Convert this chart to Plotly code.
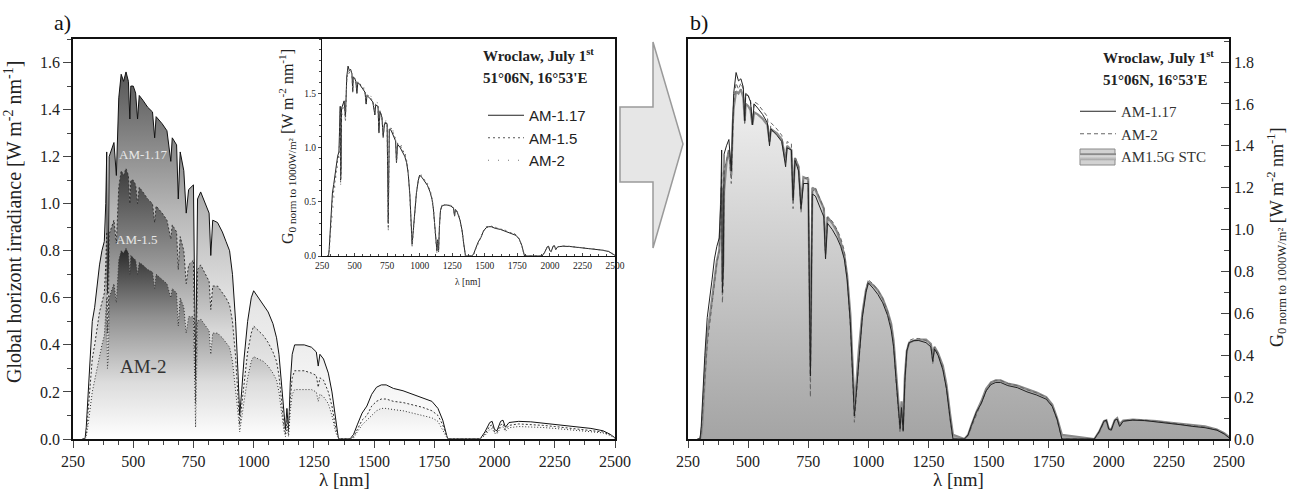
import plotly.graph_objects as go

# ---------------- data ----------------
WL = [
    290, 300, 305, 310, 320, 330, 340, 350, 360, 370,
    380, 386, 390, 393, 397, 400, 410, 420, 430, 436,
    440, 450, 460, 470, 480, 486, 490, 500, 510, 518,
    525, 540, 560, 580, 589, 595, 620, 640, 656, 662,
    680, 687, 695, 710, 720, 730, 750, 759, 762, 767,
    780, 800, 815, 822, 830, 850, 870, 885, 900, 912,
    925, 935, 942, 950, 960, 975, 990, 1000, 1020, 1040,
    1060, 1080, 1095, 1105, 1115, 1125, 1132, 1138, 1145, 1152,
    1160, 1170, 1190, 1210, 1240, 1260, 1268, 1275, 1290, 1310,
    1325, 1340, 1352, 1400, 1415, 1430, 1450, 1470, 1490, 1510,
    1530, 1550, 1580, 1620, 1660, 1700, 1740, 1765, 1785, 1805,
    1940, 1960, 1980, 1990, 2000, 2010, 2025, 2035, 2045, 2060,
    2100, 2150, 2200, 2250, 2300, 2350, 2400, 2450, 2480, 2500,
]

# panel a) global horizontal irradiance [W m-2 nm-1]
AM117 = [
    0, 0, 0.05, 0.15, 0.35, 0.50, 0.56, 0.65, 0.74, 0.80,
    0.84, 1.0, 1.22, 0.62, 0.72, 1.20, 1.23, 1.26, 1.12, 1.36,
    1.45, 1.55, 1.52, 1.56, 1.52, 1.36, 1.50, 1.50, 1.47, 1.36,
    1.46, 1.44, 1.41, 1.39, 1.28, 1.37, 1.34, 1.31, 1.18, 1.28,
    1.25, 1.02, 1.22, 1.14, 0.96, 1.06, 1.08, 0.25, 0.55, 1.02,
    1.05, 1.00, 0.96, 0.78, 0.93, 0.92, 0.88, 0.84, 0.80, 0.70,
    0.50, 0.28, 0.10, 0.20, 0.34, 0.50, 0.60, 0.63, 0.60, 0.57,
    0.54, 0.49, 0.43, 0.36, 0.24, 0.10, 0.04, 0.13, 0.03, 0.24,
    0.36, 0.40, 0.40, 0.40, 0.39, 0.37, 0.31, 0.36, 0.34, 0.28,
    0.20, 0.08, 0.0, 0.0, 0.02, 0.06, 0.11, 0.14, 0.19, 0.22,
    0.23, 0.23, 0.215, 0.205, 0.19, 0.175, 0.16, 0.13, 0.08, 0.0,
    0.0, 0.03, 0.07, 0.075, 0.04, 0.035, 0.075, 0.08, 0.05, 0.07,
    0.075, 0.073, 0.068, 0.062, 0.056, 0.05, 0.045, 0.035, 0.02, 0.005,
]
AM15 = [
    0, 0, 0.02, 0.08, 0.22, 0.34, 0.40, 0.47, 0.54, 0.58,
    0.62, 0.74, 0.88, 0.45, 0.52, 0.87, 0.90, 0.93, 0.83, 1.00,
    1.07, 1.14, 1.12, 1.15, 1.12, 1.00, 1.10, 1.10, 1.08, 1.00,
    1.07, 1.05, 1.02, 1.00, 0.92, 0.99, 0.96, 0.93, 0.85, 0.91,
    0.88, 0.72, 0.86, 0.80, 0.66, 0.74, 0.76, 0.15, 0.36, 0.72,
    0.74, 0.70, 0.67, 0.55, 0.65, 0.65, 0.62, 0.60, 0.57, 0.50,
    0.35, 0.19, 0.06, 0.14, 0.24, 0.37, 0.45, 0.48, 0.46, 0.44,
    0.41, 0.37, 0.33, 0.27, 0.17, 0.06, 0.02, 0.08, 0.02, 0.17,
    0.26, 0.29, 0.29, 0.29, 0.28, 0.27, 0.22, 0.26, 0.25, 0.20,
    0.14, 0.05, 0.0, 0.0, 0.01, 0.04, 0.08, 0.10, 0.14, 0.16,
    0.17, 0.17, 0.16, 0.155, 0.145, 0.135, 0.12, 0.10, 0.06, 0.0,
    0.0, 0.02, 0.055, 0.06, 0.03, 0.028, 0.06, 0.065, 0.04, 0.058,
    0.064, 0.062, 0.058, 0.053, 0.048, 0.043, 0.038, 0.03, 0.017, 0.004,
]
AM2 = [
    0, 0, 0.01, 0.04, 0.12, 0.20, 0.25, 0.30, 0.36, 0.40,
    0.44, 0.52, 0.60, 0.30, 0.35, 0.60, 0.63, 0.66, 0.58, 0.72,
    0.76, 0.80, 0.79, 0.81, 0.79, 0.70, 0.78, 0.77, 0.76, 0.70,
    0.75, 0.74, 0.72, 0.71, 0.64, 0.70, 0.68, 0.66, 0.60, 0.64,
    0.62, 0.48, 0.60, 0.56, 0.45, 0.52, 0.52, 0.05, 0.22, 0.50,
    0.51, 0.48, 0.46, 0.36, 0.45, 0.45, 0.43, 0.41, 0.39, 0.33,
    0.22, 0.11, 0.03, 0.08, 0.16, 0.26, 0.33, 0.35, 0.34, 0.33,
    0.31, 0.28, 0.25, 0.20, 0.12, 0.04, 0.01, 0.05, 0.01, 0.12,
    0.19, 0.21, 0.21, 0.21, 0.21, 0.20, 0.16, 0.19, 0.18, 0.15,
    0.10, 0.03, 0.0, 0.0, 0.005, 0.03, 0.06, 0.08, 0.10, 0.12,
    0.13, 0.13, 0.125, 0.12, 0.11, 0.10, 0.09, 0.075, 0.04, 0.0,
    0.0, 0.015, 0.04, 0.045, 0.025, 0.022, 0.048, 0.052, 0.032, 0.048,
    0.053, 0.052, 0.049, 0.045, 0.041, 0.037, 0.033, 0.026, 0.015, 0.003,
]

# normalised to 1000 W/m2 (inset of a) and panel b)
N_AM117 = [
    0, 0, 0.06, 0.18, 0.40, 0.58, 0.66, 0.76, 0.86, 0.92,
    0.96, 1.12, 1.38, 0.70, 0.82, 1.36, 1.40, 1.43, 1.28, 1.55,
    1.65, 1.75, 1.71, 1.72, 1.68, 1.52, 1.65, 1.64, 1.61, 1.50,
    1.60, 1.58, 1.55, 1.51, 1.40, 1.48, 1.45, 1.42, 1.30, 1.39,
    1.38, 1.14, 1.33, 1.28, 1.10, 1.22, 1.22, 0.30, 0.65, 1.17,
    1.16, 1.10, 1.06, 0.86, 1.03, 1.00, 0.96, 0.92, 0.86, 0.76,
    0.56, 0.30, 0.11, 0.22, 0.38, 0.58, 0.70, 0.745, 0.72, 0.69,
    0.65, 0.59, 0.52, 0.44, 0.29, 0.12, 0.05, 0.15, 0.04, 0.28,
    0.42, 0.46, 0.47, 0.47, 0.46, 0.44, 0.37, 0.43, 0.40, 0.33,
    0.24, 0.10, 0.0, 0.0, 0.02, 0.07, 0.13, 0.17, 0.23, 0.26,
    0.27, 0.27, 0.255, 0.245, 0.225, 0.21, 0.19, 0.155, 0.095, 0.0,
    0.0, 0.035, 0.085, 0.09, 0.048, 0.042, 0.09, 0.095, 0.06, 0.085,
    0.09, 0.088, 0.082, 0.075, 0.068, 0.06, 0.054, 0.042, 0.024, 0.006,
]
N_AM15 = [
    0, 0, 0.04, 0.14, 0.34, 0.52, 0.60, 0.70, 0.81, 0.88,
    0.93, 1.08, 1.33, 0.68, 0.78, 1.32, 1.37, 1.40, 1.25, 1.52,
    1.62, 1.72, 1.69, 1.71, 1.68, 1.51, 1.64, 1.64, 1.61, 1.50,
    1.60, 1.59, 1.56, 1.52, 1.41, 1.49, 1.46, 1.43, 1.31, 1.40,
    1.39, 1.12, 1.34, 1.29, 1.09, 1.23, 1.23, 0.25, 0.60, 1.17,
    1.18, 1.12, 1.08, 0.86, 1.04, 1.02, 0.98, 0.94, 0.88, 0.77,
    0.55, 0.29, 0.09, 0.21, 0.37, 0.58, 0.70, 0.75, 0.73, 0.70,
    0.66, 0.60, 0.53, 0.44, 0.28, 0.11, 0.04, 0.14, 0.035, 0.27,
    0.42, 0.46, 0.47, 0.47, 0.465, 0.445, 0.365, 0.435, 0.405, 0.335,
    0.24, 0.095, 0.0, 0.0, 0.018, 0.065, 0.125, 0.17, 0.23, 0.265,
    0.275, 0.275, 0.26, 0.25, 0.23, 0.215, 0.195, 0.157, 0.092, 0.0,
    0.0, 0.032, 0.082, 0.088, 0.046, 0.041, 0.089, 0.095, 0.06, 0.085,
    0.091, 0.089, 0.083, 0.076, 0.069, 0.062, 0.055, 0.043, 0.025, 0.006,
]
N_AM2 = [
    0, 0, 0.03, 0.10, 0.28, 0.45, 0.55, 0.65, 0.76, 0.84,
    0.90, 1.05, 1.28, 0.65, 0.75, 1.28, 1.33, 1.38, 1.22, 1.50,
    1.60, 1.70, 1.67, 1.70, 1.67, 1.50, 1.64, 1.64, 1.62, 1.50,
    1.61, 1.60, 1.57, 1.54, 1.42, 1.51, 1.48, 1.45, 1.32, 1.42,
    1.41, 1.10, 1.35, 1.30, 1.08, 1.24, 1.25, 0.20, 0.55, 1.18,
    1.20, 1.14, 1.10, 0.86, 1.06, 1.04, 1.00, 0.96, 0.90, 0.78,
    0.54, 0.28, 0.08, 0.20, 0.37, 0.58, 0.71, 0.76, 0.74, 0.71,
    0.67, 0.61, 0.54, 0.45, 0.28, 0.10, 0.03, 0.13, 0.03, 0.27,
    0.42, 0.47, 0.48, 0.48, 0.47, 0.45, 0.36, 0.44, 0.41, 0.34,
    0.24, 0.09, 0.0, 0.0, 0.015, 0.06, 0.12, 0.17, 0.23, 0.27,
    0.28, 0.28, 0.265, 0.255, 0.235, 0.22, 0.20, 0.16, 0.09, 0.0,
    0.0, 0.03, 0.08, 0.085, 0.045, 0.04, 0.088, 0.095, 0.06, 0.086,
    0.092, 0.09, 0.085, 0.078, 0.071, 0.064, 0.057, 0.045, 0.026, 0.006,
]
STC = [
    0, 0, 0.02, 0.08, 0.30, 0.50, 0.58, 0.68, 0.78, 0.85,
    0.90, 1.05, 1.20, 0.75, 0.85, 1.18, 1.32, 1.38, 1.26, 1.50,
    1.58, 1.66, 1.65, 1.67, 1.63, 1.52, 1.60, 1.59, 1.57, 1.50,
    1.56, 1.55, 1.53, 1.50, 1.42, 1.48, 1.46, 1.43, 1.33, 1.40,
    1.38, 1.15, 1.34, 1.30, 1.12, 1.25, 1.24, 0.35, 0.70, 1.20,
    1.19, 1.14, 1.10, 0.90, 1.06, 1.03, 0.99, 0.94, 0.88, 0.78,
    0.60, 0.35, 0.18, 0.26, 0.42, 0.60, 0.71, 0.75, 0.735, 0.71,
    0.67, 0.61, 0.55, 0.47, 0.33, 0.15, 0.08, 0.18, 0.07, 0.30,
    0.42, 0.46, 0.47, 0.475, 0.475, 0.455, 0.40, 0.44, 0.41, 0.35,
    0.26, 0.12, 0.02, 0.0, 0.02, 0.07, 0.13, 0.18, 0.24, 0.27,
    0.28, 0.28, 0.265, 0.255, 0.238, 0.222, 0.20, 0.165, 0.10, 0.02,
    0.0, 0.035, 0.085, 0.09, 0.05, 0.045, 0.09, 0.1, 0.07, 0.088,
    0.093, 0.09, 0.085, 0.078, 0.072, 0.066, 0.06, 0.045, 0.028, 0.01,
]

X_TICKS = [250, 500, 750, 1000, 1250, 1500, 1750, 2000, 2250, 2500]
LEFT_Y_TICKS = [0.0, 0.2, 0.4, 0.6, 0.8, 1.0, 1.2, 1.4, 1.6]
RIGHT_Y_TICKS = [0.0, 0.2, 0.4, 0.6, 0.8, 1.0, 1.2, 1.4, 1.6, 1.8]
INSET_Y_TICKS = [0.0, 0.5, 1.0, 1.5]

for s in (AM117, AM15, AM2, N_AM117, N_AM15, N_AM2, STC):
    assert len(s) == len(WL)

SERIF = "Liberation Serif"
SANS = "Liberation Sans"

# ---------------- figure ----------------
W, H = 1293, 498
ML, MR, MT, MB = 73, 64, 39, 59
PW, PH = W - ML - MR, H - MT - MB


def fx(px):
    return (px - ML) / PW


def fy(py):
    return 1 - (py - MT) / PH


fig = go.Figure()

# panel a) main
fig.add_trace(go.Scatter(
    x=WL, y=AM117, mode="lines", line=dict(color="#111111", width=1),
    fill="tozeroy",
    fillgradient=dict(type="vertical", start=0, stop=1.6,
                      colorscale=[[0, "#ffffff"], [0.35, "#e6e6e6"], [0.6, "#b8b8b8"], [1, "#505050"]]),
    showlegend=False, xaxis="x", yaxis="y"))
fig.add_trace(go.Scatter(
    x=WL, y=AM15, mode="lines", line=dict(color="#333333", width=1, dash="2px,2px"),
    fill="tozeroy",
    fillgradient=dict(type="vertical", start=0, stop=1.15,
                      colorscale=[[0, "#ffffff"], [0.4, "#d8d8d8"], [0.7, "#8a8a8a"], [1, "#3c3c3c"]]),
    showlegend=False, xaxis="x", yaxis="y"))
fig.add_trace(go.Scatter(
    x=WL, y=AM2, mode="lines", line=dict(color="#333333", width=1, dash="1px,2px"),
    fill="tozeroy",
    fillgradient=dict(type="vertical", start=0, stop=0.8,
                      colorscale=[[0, "#ffffff"], [0.3, "#dcdcdc"], [0.65, "#909090"], [1, "#2c2c2c"]]),
    showlegend=False, xaxis="x", yaxis="y"))

# inset of a)
fig.add_trace(go.Scatter(x=WL, y=N_AM117, mode="lines", name="AM-1.17",
                         line=dict(color="#222222", width=1), legend="legend",
                         xaxis="x3", yaxis="y3"))
fig.add_trace(go.Scatter(x=WL, y=N_AM15, mode="lines", name="AM-1.5",
                         line=dict(color="#555555", width=1, dash="2px,3px"), legend="legend",
                         xaxis="x3", yaxis="y3"))
fig.add_trace(go.Scatter(x=WL, y=N_AM2, mode="lines", name="AM-2",
                         line=dict(color="#777777", width=1, dash="1px,9px"), legend="legend",
                         xaxis="x3", yaxis="y3"))

# panel b)
fig.add_trace(go.Scatter(
    x=WL, y=STC, mode="lines", name="AM1.5G STC", legend="legend2", legendrank=3,
    line=dict(color="#8a8a8a", width=2.2), fill="tozeroy",
    fillgradient=dict(type="vertical", start=0, stop=1.75,
                      colorscale=[[0, "#a4a4a4"], [1, "#f5f5f5"]]),
    xaxis="x2", yaxis="y2"))
fig.add_trace(go.Scatter(x=WL, y=N_AM2, mode="lines", name="AM-2", legend="legend2", legendrank=2,
                         line=dict(color="#666666", width=1, dash="4px,3px"),
                         xaxis="x2", yaxis="y2"))
fig.add_trace(go.Scatter(x=WL, y=N_AM117, mode="lines", name="AM-1.17", legend="legend2", legendrank=1,
                         line=dict(color="#222222", width=1),
                         xaxis="x2", yaxis="y2"))

tickfont = dict(family=SERIF, size=16, color="#222222")
common_x = dict(range=[250, 2500], tickvals=X_TICKS, ticks="outside", ticklen=7, tickwidth=1.3,
                minor=dict(dtick=62.5, tick0=250, ticks="outside", ticklen=4, tickwidth=1),
                showline=True, linecolor="#111111", linewidth=1.5, mirror=True,
                showgrid=False, zeroline=False, tickfont=tickfont)

fig.update_layout(
    width=W, height=H,
    margin=dict(l=ML, r=MR, t=MT, b=MB, autoexpand=False),
    paper_bgcolor="white", plot_bgcolor="white",
    xaxis=dict(domain=[0, fx(615)], anchor="y", **common_x),
    yaxis=dict(domain=[0, 1], anchor="x", range=[0, 1.70], tickvals=LEFT_Y_TICKS, tickformat=".1f",
               ticks="outside", ticklen=8, tickwidth=1.3,
               minor=dict(dtick=0.1, ticks="outside", ticklen=4, tickwidth=1),
               showline=True, linecolor="#111111", linewidth=1.5, mirror=True,
               showgrid=False, zeroline=False, tickfont=tickfont),
    xaxis2=dict(domain=[fx(688), 1], anchor="y2", **common_x),
    yaxis2=dict(domain=[0, 1], anchor="x2", side="right", range=[0, 1.91], tickvals=RIGHT_Y_TICKS,
                tickformat=".1f", ticks="inside", ticklen=8, tickwidth=1.3,
                minor=dict(dtick=0.1, ticks="inside", ticklen=5, tickwidth=1),
                showline=True, linecolor="#111111", linewidth=1.5, mirror=True,
                showgrid=False, zeroline=False, tickfont=tickfont),
    xaxis3=dict(domain=[fx(322), fx(615)], anchor="y3", range=[250, 2500], tickvals=X_TICKS,
                ticks="inside", ticklen=3, tickwidth=1,
                minor=dict(dtick=62.5, tick0=250, ticks="inside", ticklen=2),
                showline=True, linecolor="#111111", linewidth=1.2, mirror=True,
                showgrid=False, zeroline=False,
                tickfont=dict(family=SERIF, size=9.5, color="#222222")),
    yaxis3=dict(domain=[fy(256), 1], anchor="x3", range=[0, 2.0], tickvals=INSET_Y_TICKS,
                tickformat=".1f", ticks="outside", ticklen=3, tickwidth=1,
                minor=dict(dtick=0.1, ticks="outside", ticklen=2),
                showline=True, linecolor="#111111", linewidth=1.2, mirror=True,
                showgrid=False, zeroline=False,
                tickfont=dict(family=SERIF, size=9.5, color="#222222")),
    legend=dict(x=fx(483), y=fy(99), xanchor="left", yanchor="top", bgcolor="rgba(0,0,0,0)",
                font=dict(family=SANS, size=15, color="#222222"), itemwidth=36,
                tracegroupgap=0),
    legend2=dict(x=fx(1075), y=fy(95), xanchor="left", yanchor="top", bgcolor="rgba(0,0,0,0)",
                 font=dict(family=SERIF, size=15, color="#333333"), itemwidth=36,
                 tracegroupgap=0),
)

# arrow between panels
pts = [(620, 107), (653, 107), (653, 42), (683, 144), (653, 248), (653, 182), (620, 182)]
path = "M " + " L ".join(f"{fx(a):.5f},{fy(b):.5f}" for a, b in pts) + " Z"
fig.add_shape(type="path", path=path, xref="paper", yref="paper",
              fillcolor="#e6e6e6", line=dict(color="#9a9a9a", width=1.5))

# box behind the filled legend symbol of "AM1.5G STC"
fig.add_shape(type="rect", xref="paper", yref="paper",
              x0=fx(1080), x1=fx(1115), y0=fy(165), y1=fy(149),
              fillcolor="#d2d2d2", line=dict(color="#8a8a8a", width=1))

ann = []
# panel labels
ann.append(dict(text="a)", x=fx(52), y=fy(22), xanchor="left", yanchor="middle",
                font=dict(family=SERIF, size=22, color="#111111")))
ann.append(dict(text="b)", x=fx(688), y=fy(22), xanchor="left", yanchor="middle",
                font=dict(family=SERIF, size=22, color="#111111")))
# axis titles
ann.append(dict(text="Global horizont irradiance [W m<sup>-2</sup> nm<sup>-1</sup>]", textangle=-90,
                x=fx(13), y=fy(222), xanchor="center", yanchor="middle",
                font=dict(family=SERIF, size=20, color="#222222")))
ann.append(dict(text="λ [nm]", x=fx(344), y=fy(479), xanchor="center", yanchor="middle",
                font=dict(family=SERIF, size=19, color="#222222")))
ann.append(dict(text="λ [nm]", x=fx(958), y=fy(479), xanchor="center", yanchor="middle",
                font=dict(family=SERIF, size=19, color="#222222")))
ann.append(dict(text="G<sub>0 norm to 1000W/m²</sub> [W m<sup>-2</sup> nm<sup>-1</sup>]", textangle=-90,
                x=fx(1276), y=fy(238), xanchor="center", yanchor="middle",
                font=dict(family=SERIF, size=18, color="#222222")))
ann.append(dict(text="G<sub>0 norm to 1000W/m²</sub> [W m<sup>-2</sup> nm<sup>-1</sup>]", textangle=-90,
                x=fx(287), y=fy(147), xanchor="center", yanchor="middle",
                font=dict(family=SERIF, size=16, color="#222222")))
ann.append(dict(text="λ [nm]", x=fx(467), y=fy(282), xanchor="center", yanchor="middle",
                font=dict(family=SERIF, size=9.5, color="#222222")))
# location text
for x0, y1, y2 in ((481, 55, 78), (1101, 57, 80)):
    ann.append(dict(text="<b>Wroclaw, July 1<sup>st</sup></b>", x=fx(x0), y=fy(y1),
                    xanchor="left", yanchor="middle",
                    font=dict(family=SERIF, size=15, color="#222222")))
    ann.append(dict(text="<b>51°06N, 16°53'E</b>", x=fx(x0), y=fy(y2),
                    xanchor="left", yanchor="middle",
                    font=dict(family=SERIF, size=15, color="#222222")))

for a in ann:
    a.update(xref="paper", yref="paper", showarrow=False)
    fig.add_annotation(**a)

# labels inside panel a)
fig.add_annotation(text="AM-1.17", x=541, y=1.21, xref="x", yref="y", showarrow=False,
                   font=dict(family=SERIF, size=13, color="#e8e8e8"))
fig.add_annotation(text="AM-1.5", x=516, y=0.85, xref="x", yref="y", showarrow=False,
                   font=dict(family=SERIF, size=13, color="#e8e8e8"))
fig.add_annotation(text="AM-2", x=540, y=0.31, xref="x", yref="y", showarrow=False,
                   font=dict(family=SERIF, size=19, color="#333333"))

fig.write_html("out.html", config={"displayModeBar": False},
               post_script="document.body.style.margin='0px';")
